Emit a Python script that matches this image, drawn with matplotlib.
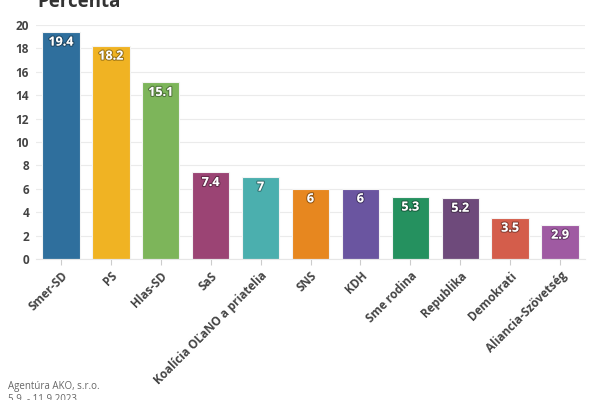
import matplotlib.pyplot as plt
import matplotlib.patheffects as pe

parties = ['Smer-SD', 'PS', 'Hlas-SD', 'SaS', 'Koalícia OĽaNO a priatelia', 'SNS', 'KDH',
           'Sme rodina', 'Republika', 'Demokrati', 'Aliancia-Szövetség']
values = [19.4, 18.2, 15.1, 7.4, 7, 6, 6, 5.3, 5.2, 3.5, 2.9]
labels = ['19.4', '18.2', '15.1', '7.4', '7', '6', '6', '5.3', '5.2', '3.5', '2.9']
colors = ['#2f6f9d', '#f0b323', '#7db55a', '#9b4474', '#4bafae', '#e7871f', '#6a55a0',
          '#25915f', '#6e4a7b', '#d45d4b', '#9f5aa2']

plt.rcParams['font.family'] = ['Open Sans', 'DejaVu Sans']

fig = plt.figure(figsize=(6, 4), dpi=100)
ax = fig.add_axes([0.06, 0.3525, 0.915, 0.585])

x = range(len(parties))
bars = ax.bar(x, values, width=0.75, color=colors, edgecolor='#f4f4f4', linewidth=0.8, zorder=2)

for b, lab in zip(bars, labels):
    t = ax.text(b.get_x() + b.get_width() / 2, b.get_height() - 0.3, lab,
                ha='center', va='top', color='white', fontsize=9, fontweight='bold', zorder=3)
    t.set_path_effects([pe.withStroke(linewidth=1.6, foreground=(0, 0, 0, 0.35))])

ax.set_xlim(-0.5, len(parties) - 0.5)
ax.set_ylim(0, 20)
ax.set_yticks(range(0, 21, 2))
ax.grid(axis='y', color='#ebebeb', linewidth=0.8, zorder=0)
for s in ['top', 'right', 'left']:
    ax.spines[s].set_visible(False)
ax.spines['bottom'].set_color('#e6e6e6')
ax.tick_params(axis='y', length=0, labelsize=8.5, labelcolor='#444444', pad=5)
ax.tick_params(axis='x', length=4, color='#cccccc', labelsize=8.5, labelcolor='#444444')
ax.set_xticks(list(x))
ax.set_xticklabels(parties, rotation=45, ha='right', rotation_mode='anchor', fontweight='bold')
for t in ax.get_yticklabels():
    t.set_fontweight('bold')

fig.text(0.062, 0.97, 'Percenta', fontsize=13.5, fontweight='bold', color='#333333', va='bottom')
fig.text(0.013, 0.02, 'Agentúra AKO, s.r.o.', fontsize=7, color='#666666', va='bottom')
fig.text(0.013, -0.012, '5.9. - 11.9.2023', fontsize=7, color='#666666', va='bottom')

fig.savefig('out.png', dpi=100)
